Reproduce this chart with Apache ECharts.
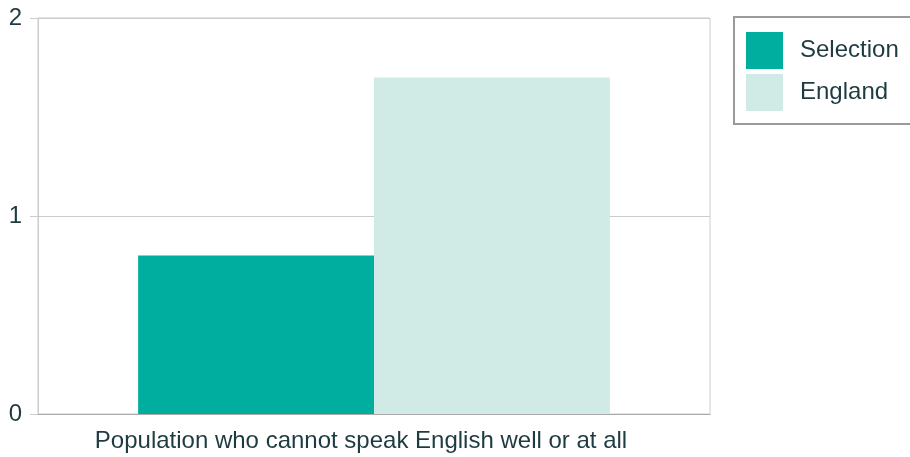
<!DOCTYPE html>
<html>
<head>
<meta charset="utf-8">
<script src="https://cdn.jsdelivr.net/npm/echarts@6/dist/echarts.min.js"></script>
<style>
html,body{margin:0;padding:0;background:#fff;}
#c{width:910px;height:457px;}
</style>
</head>
<body>
<div id="c"></div>
<script>
const categories = ['Population who cannot speak English well or at all'];
const seriesNames = ['Selection', 'England'];
const selectionValues = [0.8];
const englandValues = [1.7];
const yTicks = [0, 1, 2];

const textColor = '#1d3b40';
const chart = echarts.init(document.getElementById('c'), null, {renderer: 'canvas'});
chart.setOption({
  animation: false,
  textStyle: {fontFamily: 'Liberation Sans, Arial, sans-serif'},
  grid: {left: 38, right: 200, top: 18, bottom: 43, show: true, borderColor: '#cccccc', borderWidth: 1, backgroundColor: 'transparent'},
  legend: {
    left: 734, top: 17, orient: 'vertical',
    borderColor: '#9a9a9a', borderWidth: 2, borderRadius: 0,
    padding: [15, 120, 13, 12],
    itemWidth: 37, itemHeight: 37, itemGap: 5,
    icon: 'rect',
    textStyle: {fontSize: 24, color: textColor, padding: [0, 0, 0, 12]},
    data: seriesNames
  },
  xAxis: {
    type: 'category', data: categories,
    axisLine: {lineStyle: {color: '#aaaaaa', width: 1}},
    axisTick: {show: false},
    axisLabel: {fontSize: 24, color: textColor, margin: 15, padding: [0, 26, 0, 0]}
  },
  yAxis: {
    type: 'value', min: yTicks[0], max: yTicks[yTicks.length - 1], interval: 1,
    axisLine: {show: true, lineStyle: {color: '#cccccc'}},
    axisTick: {show: true, length: 8, lineStyle: {color: '#cccccc'}},
    splitLine: {lineStyle: {color: '#cccccc'}},
    axisLabel: {fontSize: 24, color: textColor, margin: 16}
  },
  series: [
    {name: seriesNames[0], type: 'bar', data: selectionValues, barGap: '0%', barCategoryGap: '29.8%', itemStyle: {color: '#00ae9f'}},
    {name: seriesNames[1], type: 'bar', data: englandValues, barGap: '0%', barCategoryGap: '29.8%', itemStyle: {color: '#d0eae6'}}
  ]
});
</script>
</body>
</html>
